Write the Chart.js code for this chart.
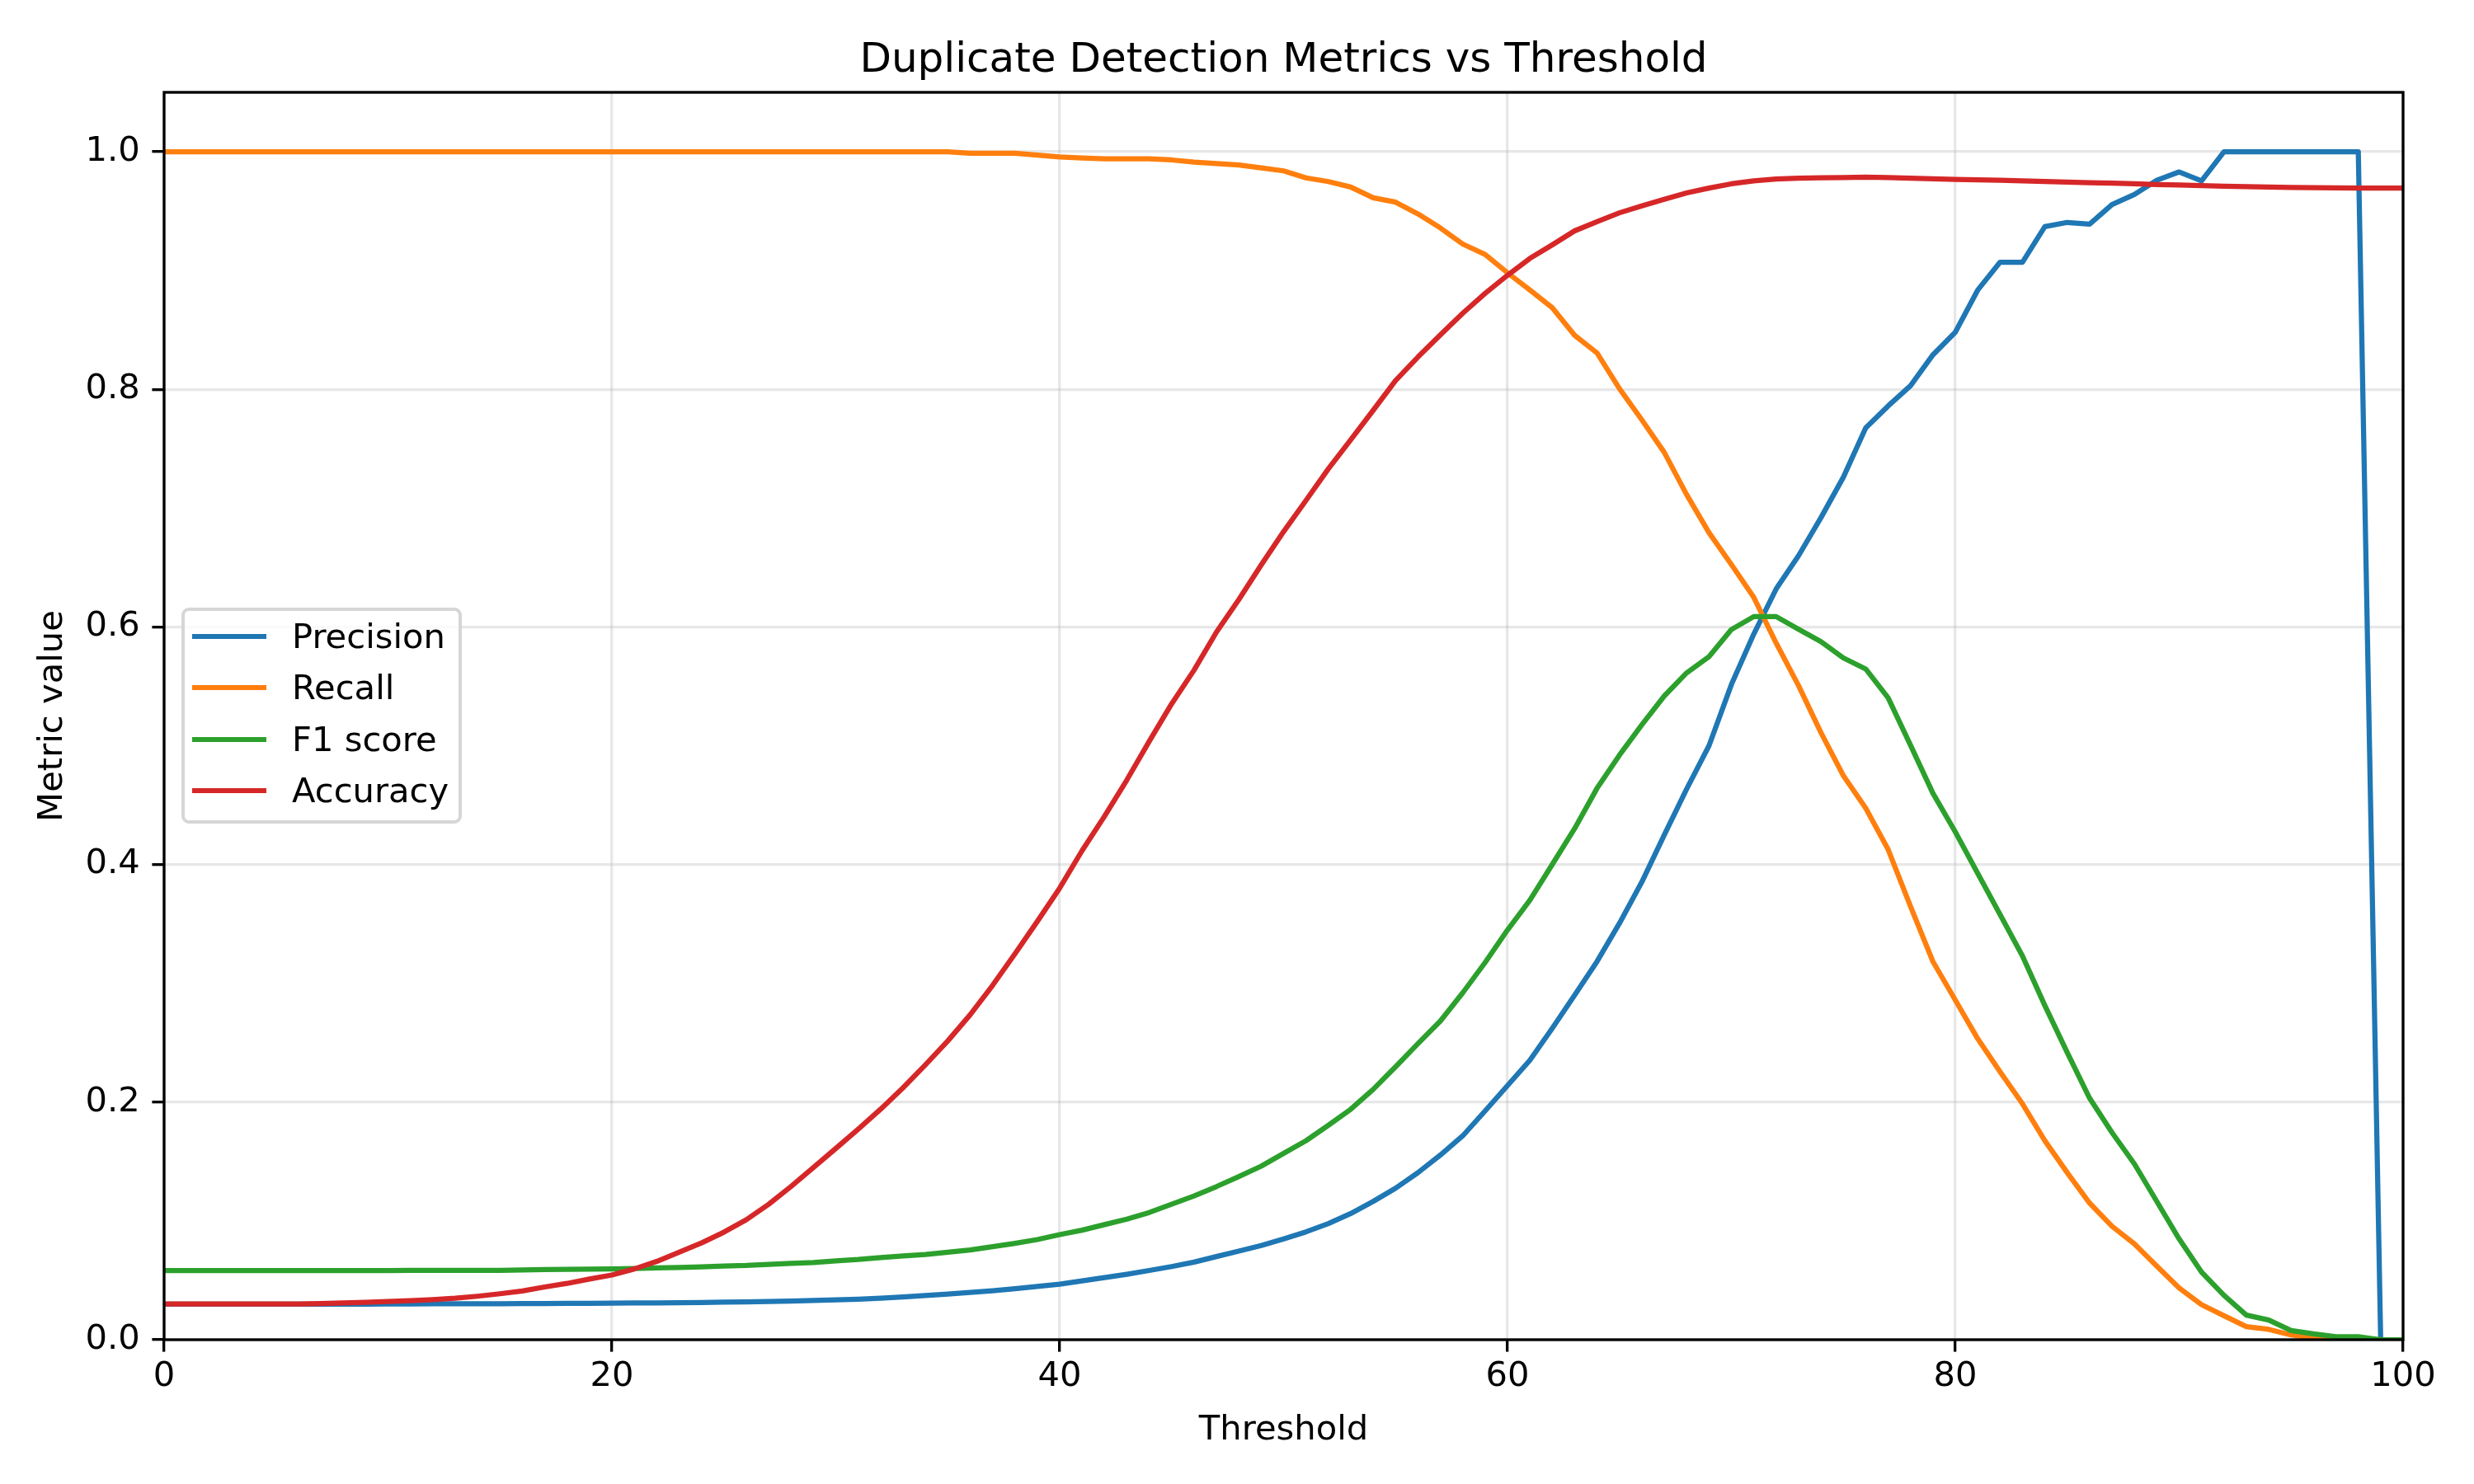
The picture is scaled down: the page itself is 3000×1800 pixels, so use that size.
<!DOCTYPE html>
<html>
<head>
<meta charset="utf-8">
<title>Duplicate Detection Metrics vs Threshold</title>
<script src="https://cdn.jsdelivr.net/npm/chart.js@4.4.1/dist/chart.umd.min.js"></script>
<style>
    html, body { margin: 0; padding: 0; background: #fff; }
    #wrap { position: relative; width: 3000px; height: 1800px; }
    #legend {
        position: absolute;
        left: 220px;
        top: 737px;
        width: 340px;
        height: 262px;
        box-sizing: border-box;
        border: 4px solid #d6d6d6;
        border-radius: 9px;
        background: rgba(255, 255, 255, 0.8);
        font-family: 'DejaVu Sans', sans-serif;
        font-size: 41.67px;
        color: #000;
    }
    .legend-row { position: absolute; left: 0; height: 50px; line-height: 50px; white-space: nowrap; }
    .legend-line { position: absolute; left: 9px; top: 22px; width: 90px; height: 6.25px; }
    .legend-text { position: absolute; left: 130px; top: 0; }
</style>
</head>
<body>
<div id="wrap">
    <canvas id="myChart" width="3000" height="1800"></canvas>
    <div id="legend"></div>
</div>
<script>
// threshold values on the x axis
const thresholds = [
    0, 1, 2, 3, 4, 5, 6, 7, 8, 9, 10, 11, 12, 13, 14, 15, 16, 17, 18, 19,
    20, 21, 22, 23, 24, 25, 26, 27, 28, 29, 30, 31, 32, 33, 34, 35, 36, 37, 38, 39,
    40, 41, 42, 43, 44, 45, 46, 47, 48, 49, 50, 51, 52, 53, 54, 55, 56, 57, 58, 59,
    60, 61, 62, 63, 64, 65, 66, 67, 68, 69, 70, 71, 72, 73, 74, 75, 76, 77, 78, 79,
    80, 81, 82, 83, 84, 85, 86, 87, 88, 89, 90, 91, 92, 93, 94, 95, 96, 97, 98, 99, 100
];

const precision = [
    0.0300, 0.0300, 0.0300, 0.0300, 0.0300, 0.0300, 0.0300, 0.0300, 0.0300, 0.0300,
    0.0301, 0.0301, 0.0302, 0.0302, 0.0303, 0.0303, 0.0304, 0.0305, 0.0306, 0.0307,
    0.0308, 0.0309, 0.0310, 0.0312, 0.0314, 0.0316, 0.0319, 0.0322, 0.0326, 0.0330,
    0.0335, 0.0341, 0.0349, 0.0360, 0.0372, 0.0385, 0.0398, 0.0412, 0.0430, 0.0449,
    0.0467, 0.0495, 0.0523, 0.0551, 0.0583, 0.0616, 0.0653, 0.0700, 0.0746, 0.0793,
    0.0848, 0.0908, 0.0978, 0.1062, 0.1164, 0.1275, 0.1406, 0.1554, 0.1716, 0.1926,
    0.2139, 0.2353, 0.2622, 0.2901, 0.3184, 0.3505, 0.3853, 0.4248, 0.4635, 0.5000,
    0.5515, 0.5940, 0.6320, 0.6600, 0.6920, 0.7260, 0.7675, 0.7860, 0.8030, 0.8290,
    0.8480, 0.8835, 0.9070, 0.9070, 0.9370, 0.9405, 0.9390, 0.9555, 0.9640, 0.9760,
    0.9830, 0.9755, 1.0000, 1.0000, 1.0000, 1.0000, 1.0000, 1.0000, 1.0000, 0.0000,
    0.0000
];

const recall = [
    1.0000, 1.0000, 1.0000, 1.0000, 1.0000, 1.0000, 1.0000, 1.0000, 1.0000, 1.0000,
    1.0000, 1.0000, 1.0000, 1.0000, 1.0000, 1.0000, 1.0000, 1.0000, 1.0000, 1.0000,
    1.0000, 1.0000, 1.0000, 1.0000, 1.0000, 1.0000, 1.0000, 1.0000, 1.0000, 1.0000,
    1.0000, 1.0000, 1.0000, 1.0000, 1.0000, 1.0000, 0.9988, 0.9988, 0.9988, 0.9972,
    0.9956, 0.9948, 0.9941, 0.9941, 0.9941, 0.9931, 0.9913, 0.9900, 0.9888, 0.9864,
    0.9839, 0.9780, 0.9749, 0.9703, 0.9613, 0.9576, 0.9477, 0.9359, 0.9223, 0.9136,
    0.8981, 0.8836, 0.8687, 0.8455, 0.8306, 0.8006, 0.7743, 0.7470, 0.7114, 0.6793,
    0.6525, 0.6249, 0.5864, 0.5506, 0.5110, 0.4749, 0.4475, 0.4127, 0.3648, 0.3184,
    0.2859, 0.2534, 0.2255, 0.1986, 0.1675, 0.1406, 0.1150, 0.0955, 0.0807, 0.0620,
    0.0435, 0.0295, 0.0202, 0.0110, 0.0087, 0.0040, 0.0015, 0.0013, 0.0013, 0.0000,
    0.0000
];

const f1Score = [
    0.0582, 0.0582, 0.0582, 0.0582, 0.0582, 0.0582, 0.0582, 0.0582, 0.0582, 0.0582,
    0.0582, 0.0584, 0.0584, 0.0584, 0.0584, 0.0584, 0.0588, 0.0590, 0.0592, 0.0594,
    0.0596, 0.0600, 0.0604, 0.0608, 0.0613, 0.0621, 0.0625, 0.0634, 0.0642, 0.0650,
    0.0663, 0.0675, 0.0692, 0.0705, 0.0718, 0.0737, 0.0755, 0.0783, 0.0811, 0.0843,
    0.0885, 0.0922, 0.0969, 0.1015, 0.1071, 0.1141, 0.1210, 0.1289, 0.1373, 0.1461,
    0.1568, 0.1675, 0.1805, 0.1940, 0.2107, 0.2297, 0.2492, 0.2682, 0.2920, 0.3175,
    0.3449, 0.3700, 0.4001, 0.4303, 0.4642, 0.4921, 0.5176, 0.5418, 0.5613, 0.5750,
    0.5978, 0.6087, 0.6087, 0.5980, 0.5877, 0.5739, 0.5646, 0.5404, 0.5004, 0.4600,
    0.4275, 0.3927, 0.3579, 0.3230, 0.2813, 0.2418, 0.2033, 0.1744, 0.1480, 0.1164,
    0.0848, 0.0569, 0.0374, 0.0207, 0.0166, 0.0077, 0.0049, 0.0026, 0.0026, 0.0000,
    0.0000
];

const accuracy = [
    0.0301, 0.0301, 0.0301, 0.0301, 0.0301, 0.0301, 0.0301, 0.0305, 0.0310, 0.0315,
    0.0322, 0.0328, 0.0337, 0.0349, 0.0366, 0.0387, 0.0410, 0.0444, 0.0474, 0.0511,
    0.0545, 0.0596, 0.0659, 0.0737, 0.0815, 0.0905, 0.1010, 0.1140, 0.1290, 0.1450,
    0.1610, 0.1772, 0.1940, 0.2120, 0.2314, 0.2515, 0.2735, 0.2982, 0.3248, 0.3521,
    0.3802, 0.4117, 0.4406, 0.4712, 0.5037, 0.5353, 0.5636, 0.5956, 0.6230, 0.6522,
    0.6802, 0.7065, 0.7331, 0.7576, 0.7823, 0.8074, 0.8272, 0.8458, 0.8640, 0.8808,
    0.8960, 0.9102, 0.9216, 0.9334, 0.9411, 0.9486, 0.9544, 0.9600, 0.9653, 0.9694,
    0.9730, 0.9755, 0.9770, 0.9777, 0.9780, 0.9783, 0.9786, 0.9782, 0.9777, 0.9772,
    0.9767, 0.9764, 0.9760, 0.9755, 0.9750, 0.9745, 0.9740, 0.9735, 0.9730, 0.9724,
    0.9720, 0.9715, 0.9710, 0.9706, 0.9703, 0.9700, 0.9698, 0.9696, 0.9694, 0.9694,
    0.9694
];

const xTicks = [0, 20, 40, 60, 80, 100];
const yTicks = [0, 0.2, 0.4, 0.6, 0.8, 1.0];

Chart.defaults.font.family = "'DejaVu Sans', sans-serif";
Chart.defaults.color = '#000';

// matplotlib draws a box round the whole axes, not only left and bottom
const axesFrame = {
    id: 'axesFrame',
    afterDatasetsDraw(chart) {
        const { ctx, chartArea } = chart;
        ctx.save();
        ctx.strokeStyle = '#000';
        ctx.lineWidth = 3.33;
        ctx.strokeRect(chartArea.left, chartArea.top, chartArea.right - chartArea.left, chartArea.bottom - chartArea.top);
        ctx.restore();
    }
};

function lineSet(label, data, color, order) {
    return {
        label: label,
        data: data,
        borderColor: color,
        backgroundColor: color,
        borderWidth: 6.25,
        pointRadius: 0,
        pointHoverRadius: 0,
        tension: 0,
        fill: false,
        borderJoinStyle: 'round',
        order: order
    };
}

const gridColor = 'rgba(176, 176, 176, 0.3)';

const ctx = document.getElementById('myChart').getContext('2d');
const myChart = new Chart(ctx, {
    type: 'line',
    data: {
        labels: thresholds,
        datasets: [
            lineSet('Precision', precision, '#1f77b4', 3),
            lineSet('Recall', recall, '#ff7f0e', 2),
            lineSet('F1 score', f1Score, '#2ca02c', 1),
            lineSet('Accuracy', accuracy, '#d62728', 0)
        ]
    },
    plugins: [axesFrame],
    options: {
        responsive: false,
        devicePixelRatio: 1,
        animation: false,
        layout: {
            padding: { left: 0, right: 86, top: 0, bottom: 0 }
        },
        plugins: {
            legend: { display: false },
            tooltip: { enabled: false },
            title: {
                display: true,
                text: 'Duplicate Detection Metrics vs Threshold',
                fullSize: false,
                color: '#000',
                font: { size: 50, weight: 'normal' },
                padding: { top: 44, bottom: 8 }
            }
        },
        scales: {
            x: {
                type: 'linear',
                min: 0,
                max: 100,
                afterBuildTicks: axis => { axis.ticks = xTicks.map(v => ({ value: v })); },
                afterFit: scale => { scale.height = 175; },
                ticks: {
                    font: { size: 41.67 },
                    color: '#000',
                    padding: 6,
                    maxRotation: 0,
                    autoSkip: false
                },
                grid: {
                    color: gridColor,
                    lineWidth: 3.33,
                    drawTicks: true,
                    tickLength: 14.6,
                    tickColor: '#000',
                    tickWidth: 3.33
                },
                border: { display: false },
                title: {
                    display: true,
                    text: 'Threshold',
                    font: { size: 41.67 },
                    color: '#000',
                    padding: { top: 0, bottom: 40 }
                }
            },
            y: {
                min: 0,
                max: 1.05,
                afterBuildTicks: axis => { axis.ticks = yTicks.map(v => ({ value: v })); },
                afterFit: scale => { scale.width = 199; },
                ticks: {
                    font: { size: 41.67 },
                    color: '#000',
                    padding: 14.6,
                    callback: v => v.toFixed(1)
                },
                grid: {
                    color: gridColor,
                    lineWidth: 3.33,
                    drawTicks: true,
                    tickLength: 14.6,
                    tickColor: '#000',
                    tickWidth: 3.33
                },
                border: { display: false },
                title: {
                    display: true,
                    text: 'Metric value',
                    font: { size: 41.67 },
                    color: '#000',
                    padding: { top: 39, bottom: 0 }
                }
            }
        }
    }
});

// legend box sits inside the axes, centre left, like matplotlib's "best"
const legendBox = document.getElementById('legend');
myChart.data.datasets.forEach((ds, i) => {
    const row = document.createElement('div');
    row.className = 'legend-row';
    row.style.top = (30.7 + i * 62.5 - 25) + 'px';
    row.style.width = '100%';

    const line = document.createElement('span');
    line.className = 'legend-line';
    line.style.background = ds.borderColor;

    const text = document.createElement('span');
    text.className = 'legend-text';
    text.textContent = ds.label;

    row.appendChild(line);
    row.appendChild(text);
    legendBox.appendChild(row);
});
</script>
</body>
</html>
